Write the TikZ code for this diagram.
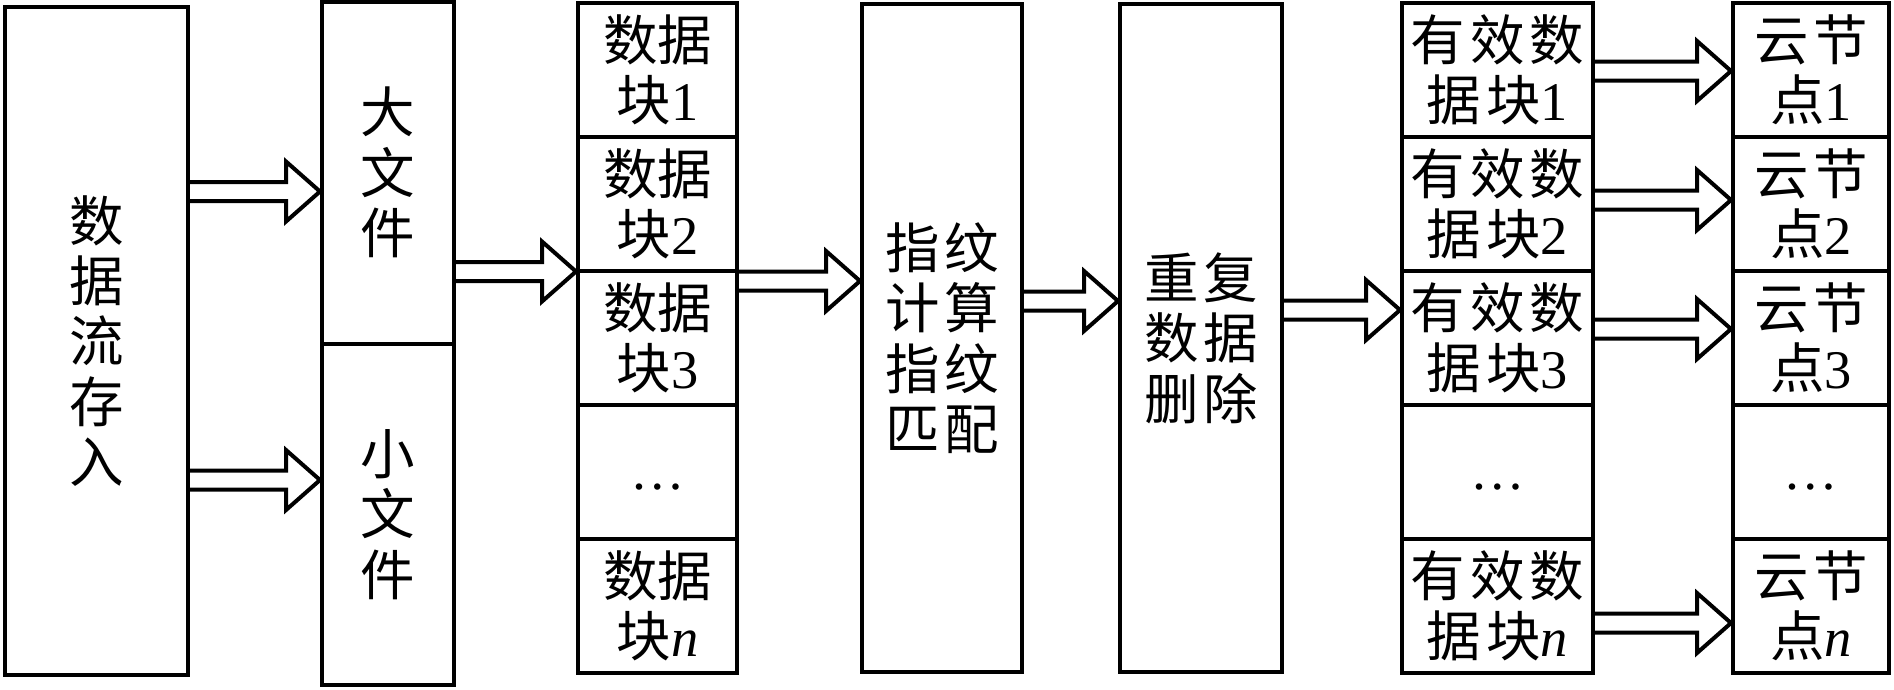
\documentclass[tikz,border=0pt]{standalone}
\usepackage{fontspec}
\setmainfont{Noto Sans CJK SC}
\newfontfamily\tnr{Liberation Serif}
\usetikzlibrary{calc}
\newcommand\gap{\hspace{0.05cm}}

\begin{document}
\begin{tikzpicture}[x=1cm,y=1cm,
  blk/.style={draw, line width=0.04cm, inner sep=0pt, align=center, font=\fontsize{15.5}{17.2}\selectfont},
  tall/.style={blk, minimum width=1.6cm, minimum height=6.68cm},
  chunk/.style={blk, minimum width=1.59cm, minimum height=1.34cm},
  valid/.style={blk, minimum width=1.91cm, minimum height=1.34cm},
  cloud/.style={blk, minimum width=1.56cm, minimum height=1.34cm},
  fat/.style={line width=0.04cm, line join=miter, to path={
    ($(\tikztostart)+(0,0.095)$) -- ($(\tikztotarget)+(-0.34,0.095)$) -- ++(0,0.205) -- (\tikztotarget)
    -- ($(\tikztotarget)+(-0.34,-0.30)$) -- ++(0,0.205) -- ($(\tikztostart)+(0,-0.095)$)}}]
\useasboundingbox (0,0) rectangle (18.94,-6.89);
\node[blk, minimum width=1.83cm, minimum height=6.68cm] (flow) at (0.965,-3.41) {数\\据\\流\\存\\入};
\node[blk, minimum width=1.32cm, minimum height=3.415cm] (big) at (3.88,-1.7275) {大\\文\\件};
\node[blk, minimum width=1.32cm, minimum height=3.415cm] (small) at (3.88,-5.1425) {小\\文\\件};
% data blocks
\node[chunk] (c1) at (6.575,-0.70) {数据\\块{\tnr 1}};
\node[chunk] (c2) at (6.575,-2.04) {数据\\块{\tnr 2}};
\node[chunk] (c3) at (6.575,-3.38) {数据\\块{\tnr 3}};
\node[chunk] (c4) at (6.575,-4.72) {\tnr\vphantom{1}…};
\node[chunk] (cn) at (6.575,-6.06) {数据\\块{\tnr\itshape n}};
\node[tall] (fp) at (9.42,-3.38) {指\gap 纹\\计\gap 算\\指\gap 纹\\匹\gap 配};
\node[tall, minimum width=1.62cm] (dedup) at (12.01,-3.38) {重\gap 复\\数\gap 据\\删\gap 除};
% valid blocks
\node[valid] (v1) at (14.975,-0.70) {有\gap 效\gap 数\\据\gap 块{\tnr 1}};
\node[valid] (v2) at (14.975,-2.04) {有\gap 效\gap 数\\据\gap 块{\tnr 2}};
\node[valid] (v3) at (14.975,-3.38) {有\gap 效\gap 数\\据\gap 块{\tnr 3}};
\node[valid] (v4) at (14.975,-4.72) {\tnr\vphantom{1}…};
\node[valid] (vn) at (14.975,-6.06) {有\gap 效\gap 数\\据\gap 块{\tnr\itshape n}};
% cloud nodes
\node[cloud] (n1) at (18.11,-0.70) {云\gap 节\\点{\tnr 1}};
\node[cloud] (n2) at (18.11,-2.04) {云\gap 节\\点{\tnr 2}};
\node[cloud] (n3) at (18.11,-3.38) {云\gap 节\\点{\tnr 3}};
\node[cloud] (n4) at (18.11,-4.72) {\tnr\vphantom{1}…};
\node[cloud] (nn) at (18.11,-6.06) {云\gap 节\\点{\tnr\itshape n}};
\draw[fat] (flow.east |- 0,-1.915) to (big.west |- 0,-1.915);
\draw[fat] (flow.east |- 0,-4.80) to (small.west |- 0,-4.80);
\draw[fat] (big.east |- 0,-2.715) to (c3.west |- 0,-2.715);
\draw[fat] (c3.east |- 0,-2.81) to (fp.west |- 0,-2.81);
\draw[fat] (fp.east |- 0,-3.01) to (dedup.west |- 0,-3.01);
\draw[fat] (dedup.east |- 0,-3.10) to (v3.west |- 0,-3.10);
\draw[fat] (v1.east |- 0,-0.71) to (n1.west |- 0,-0.71);
\draw[fat] (v2.east |- 0,-2.00) to (n2.west |- 0,-2.00);
\draw[fat] (v3.east |- 0,-3.29) to (n3.west |- 0,-3.29);
\draw[fat] (vn.east |- 0,-6.23) to (nn.west |- 0,-6.23);
\end{tikzpicture}
\end{document}
